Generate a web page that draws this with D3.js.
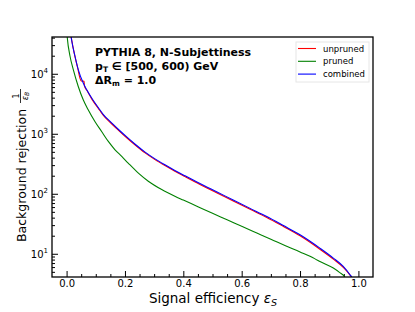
<!DOCTYPE html>
<html><head><meta charset="utf-8">
<script src="https://cdn.jsdelivr.net/npm/d3@7"></script>
<style>body{margin:0;background:#fff;} svg{display:block;} text{font-family:"DejaVu Sans",sans-serif;fill:#000;}</style>
</head><body><svg id="c" width="415" height="312"></svg>
<script>
// ---- data ----
const effUnpruned = [0.012,0.016,0.028,0.038,0.046,0.050,0.060,0.061,0.070,0.086,0.114,0.126,0.149,0.177,0.206,0.234,0.269,0.303,0.337,0.371,0.406,0.457,0.514,0.571,0.629,0.686,0.743,0.800,0.868,0.914,0.948,0.970,0.977,0.979];
const rejUnpruned = [52000,40000,20000,12500,8400,7600,7500,6300,5250,3820,2440,2030,1555,1153,858,656,480,371,295,238,193,143,104,76,55,40.3,28.5,19.9,11.9,8.15,5.95,4.5,4.0,3.4];
const effPruned = [0.000,0.002,0.012,0.023,0.040,0.057,0.074,0.097,0.120,0.143,0.166,0.189,0.211,0.246,0.280,0.326,0.371,0.400,0.450,0.500,0.550,0.600,0.650,0.700,0.750,0.800,0.850,0.868,0.914,0.935,0.954,0.960];
const rejPruned = [56000,41700,19400,11700,6140,3690,2510,1600,1090,745,541,419,325,221,162,117.5,91,78.5,61,47.3,36.9,28.7,22.4,17.5,13.6,10.7,8.3,7.45,5.78,4.9,4.07,3.5];
const effCombined = [0.013,0.017,0.029,0.040,0.057,0.069,0.086,0.114,0.126,0.149,0.177,0.206,0.234,0.269,0.303,0.337,0.371,0.406,0.457,0.514,0.571,0.629,0.686,0.743,0.800,0.868,0.914,0.948,0.971,0.978,0.980];
const rejCombined = [50000,36900,19400,11700,7000,5410,3940,2510,2090,1603,1189,885,676,495,382,304,245,199,148,108,78.7,57.1,41.7,29.5,20.7,12.4,8.47,6.14,4.47,3.98,3.4];

const seriesNames = ["unpruned","pruned","combined"];
const seriesColors = ["#ff0000","#008000","#0000ff"];
const xTicks = [0,0.2,0.4,0.6,0.8,1.0];
const xTickLabels = ["0.0","0.2","0.4","0.6","0.8","1.0"];
const yTicks = [10,100,1000,10000];
const yTickExps = ["1","2","3","4"];

// ---- layout ----
const L=52,T=37,R=373,B=277;
const svg = d3.select("#c");
const x = d3.scaleLinear().domain([-0.05,1.05]).range([L,R]);
const y = d3.scaleLog().domain([4.1,41000]).range([B,T]);

svg.append("defs").append("clipPath").attr("id","clip")
  .append("rect").attr("x",L).attr("y",T).attr("width",R-L).attr("height",B-T);

// minor ticks
const xMinor = d3.range(1,21).filter(i=>i%4!==0).map(i=>i*0.05).filter(v=>v<1.04);
const yMinor = [];
[1,10,100,1000,10000].forEach(d=>{ for(let k=2;k<=9;k++){ const v=d*k; if(v>4.1 && v<41000) yMinor.push(v);} });

const xAxis = d3.axisBottom(x).tickValues(xTicks).tickSizeInner(-6).tickSizeOuter(0).tickPadding(3)
  .tickFormat((d,i)=>xTickLabels[i]);
const gx = svg.append("g").attr("transform",`translate(0,${B})`).call(xAxis);
gx.select(".domain").remove();
gx.selectAll(".tick text").attr("font-size",10).attr("font-family","DejaVu Sans").attr("dy","0.71em").attr("y",3);
gx.selectAll(".tick line").attr("stroke","#000");
const gxm = svg.append("g").attr("transform",`translate(0,${B})`)
  .call(d3.axisBottom(x).tickValues(xMinor).tickSizeInner(-3).tickSizeOuter(0).tickFormat(""));
gxm.select(".domain").remove();

const yAxis = d3.axisLeft(y).tickValues(yTicks).tickSizeInner(-6).tickSizeOuter(0).tickPadding(4).tickFormat("");
const gy = svg.append("g").attr("transform",`translate(${L},0)`).call(yAxis);
gy.select(".domain").remove();
gy.selectAll(".tick").each(function(d,i){
  const t = d3.select(this).append("text").attr("x",-4).attr("y",4).attr("text-anchor","end").attr("font-size",10);
  t.append("tspan").text("10");
  t.append("tspan").attr("dy",-5).attr("font-size",7).text(yTickExps[i]);
});
const gym = svg.append("g").attr("transform",`translate(${L},0)`)
  .call(d3.axisLeft(y).tickValues(yMinor).tickSizeInner(-3).tickSizeOuter(0).tickFormat(""));
gym.select(".domain").remove();

// curves
const effs = [effUnpruned,effPruned,effCombined];
const rejs = [rejUnpruned,rejPruned,rejCombined];
const line = d3.line().curve(d3.curveMonotoneX).x(d=>x(d[0])).y(d=>y(d[1]));
const plot = svg.append("g").attr("clip-path","url(#clip)");
[1,0,2].forEach(s=>{
  const pts = effs[s].map((e,i)=>[e,rejs[s][i]]);
  plot.append("path").datum(pts).attr("d",line).attr("fill","none")
    .attr("stroke",seriesColors[s]).attr("stroke-width",1.1);
});

// frame
svg.append("rect").attr("x",L).attr("y",T).attr("width",R-L).attr("height",B-T)
  .attr("fill","none").attr("stroke","#000").attr("stroke-width",1.3);

// annotation
const ann = svg.append("g").attr("font-weight","bold").attr("font-size",11);
ann.append("text").attr("x",95).attr("y",56).text("PYTHIA 8, N-Subjettiness");
const a2 = ann.append("text").attr("x",95).attr("y",70);
a2.append("tspan").text("p");
a2.append("tspan").attr("dy",2).attr("font-size",7.5).text("T");
a2.append("tspan").attr("dy",-2).text(" \u2208 [500, 600) GeV");
const a3 = ann.append("text").attr("x",95).attr("y",84);
a3.append("tspan").text("\u0394R");
a3.append("tspan").attr("dy",2).attr("font-size",7.5).text("m");
a3.append("tspan").attr("dy",-2).text(" = 1.0");

// legend
const lg = svg.append("g");
lg.append("rect").attr("x",296).attr("y",42).attr("width",73).attr("height",40)
  .attr("fill","#fff").attr("stroke","#e6e6e6").attr("stroke-width",1);
[0,1,2].forEach(i=>{
  const yy = 48.5 + i*12.8;
  lg.append("line").attr("x1",298).attr("x2",316).attr("y1",yy).attr("y2",yy)
    .attr("stroke",seriesColors[i]).attr("stroke-width",1.1);
  lg.append("text").attr("x",323).attr("y",yy+3).attr("font-size",8.5).text(seriesNames[i]);
});

// axis labels
const xl = svg.append("text").attr("x",213).attr("y",302.5).attr("text-anchor","middle").attr("font-size",13.5);
xl.append("tspan").text("Signal efficiency ");
xl.append("tspan").attr("font-style","italic").text("\u03b5");
xl.append("tspan").attr("dy",3).attr("font-size",9.5).attr("font-style","italic").text("S");

const yl = svg.append("g").attr("transform","rotate(-90)");
yl.append("text").attr("x",-242).attr("y",26).attr("font-size",12.5).text("Background rejection");
yl.append("text").attr("x",-96).attr("y",18.5).attr("text-anchor","middle").attr("font-size",8).text("1");
yl.append("line").attr("x1",-103).attr("x2",-89).attr("y1",20.5).attr("y2",20.5).attr("stroke","#000").attr("stroke-width",0.8);
const den = yl.append("text").attr("x",-96).attr("y",27.5).attr("text-anchor","middle").attr("font-size",8);
den.append("tspan").attr("font-style","italic").text("\u03b5");
den.append("tspan").attr("dy",1.5).attr("font-size",6).attr("font-style","italic").text("B");
</script></body></html>
